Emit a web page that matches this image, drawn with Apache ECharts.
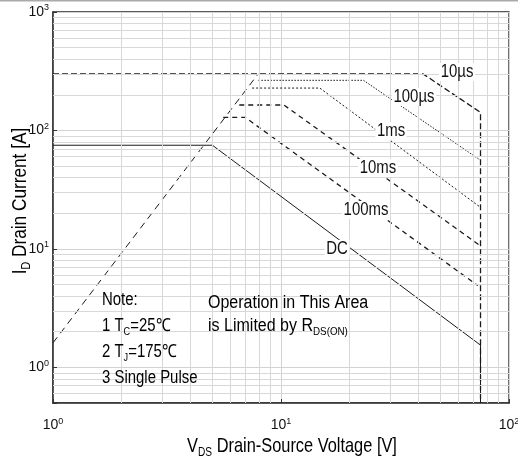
<!DOCTYPE html>
<html><head><meta charset="utf-8">
<script src="https://cdn.jsdelivr.net/npm/echarts@6/dist/echarts.min.js"></script>
<style>html,body{margin:0;padding:0;background:#fff}#c{width:518px;height:459px}</style>
</head><body><div id="c"></div>
<script>
// ---- data ----
const xMinor = [2,3,4,5,6,7,8,9,20,30,40,50,60,70,80,90];
const yMinor = [0.6,0.7,0.8,0.9,2,3,4,5,6,7,8,9,20,30,40,50,60,70,80,90,200,300,400,500,600,700,800,900];
const rdsLimit = [[1,1.61],[7.94,300]];
const us10  = [[1,300],[42,300],[75,142],[75,0.5]];
const us100 = [[7.96,265],[23,265],[75,56]];
const ms1   = [[7.47,228],[14.8,228],[75,22.4]];
const ms10  = [[6.56,164],[10.3,164],[75,10.6]];
const ms100 = [[5.58,129],[6.96,129],[73,4.9]];
const dc    = [[1,75],[5,75],[75,1.54],[75,0.5]];
const curveLabels = ['10µs','100µs','1ms','10ms','100ms','DC'];
const noteLines = ['Note:','1 T{s|C}=25℃','2 T{s|J}=175℃','3 Single Pulse'];
const areaLines = ['Operation in This Area','is Limited by R{s|DS(ON)}'];
const xTitle = 'V{s|DS} Drain-Source Voltage [V]';
const yTitle = 'I{s|D} Drain Current [A]';

const FONT = "'Liberation Sans',Arial,sans-serif";
const chart = echarts.init(document.getElementById('c'), null, {renderer:'canvas'});
const ink = '#1a1a1a';
function powLabel(v){
  const e = Math.log10(v), r = Math.round(e);
  if (Math.abs(e - r) > 1e-6) return '';
  return '{b|10}{p|' + r + '}';
}
const tickRich = {
  b:{fontSize:14,fontFamily:FONT,color:'#111',lineHeight:17},
  p:{fontSize:9,fontFamily:FONT,color:'#111',lineHeight:9,verticalAlign:'top'}
};
function sub(size){
  return {
    m:{fontSize:size,fontFamily:FONT,color:'#111',lineHeight:size+4},
    s:{fontSize:Math.round(size*0.62),fontFamily:FONT,color:'#111',lineHeight:Math.round(size*0.5),verticalAlign:'bottom'}
  };
}
function wrapM(t){
  return t.split(/(\{s\|[^}]*\})/).map(p => p.startsWith('{s|') ? p : (p ? '{m|' + p + '}' : '')).join('');
}
function lineSeries(name, data, width, dash){
  return {name, type:'line', data, symbol:'none', silent:true,
    lineStyle:{color:ink, width, type: dash}, z:3};
}
const curvePos = [[457,72],[414,97],[391,131],[378,168],[366,210],[337,249]];
const graphics = [];
curveLabels.forEach((t,i) => graphics.push({type:'text', x:curvePos[i][0], y:curvePos[i][1], z:10, scaleX:0.83,
  style:{text:t, font:'18px ' + FONT, fill:'#111', align:'center', verticalAlign:'middle',
    backgroundColor:'#fff', padding:[0,2]}}));
noteLines.forEach((t,i) => graphics.push({type:'text', x:102, y:300 + i*26, z:10, scaleX:0.83,
  style:{text:wrapM(t), rich:sub(18), align:'left', verticalAlign:'middle'}}));
areaLines.forEach((t,i) => graphics.push({type:'text', x:208, y:303 + i*23, z:10, scaleX:0.89,
  style:{text:wrapM(t), rich:sub(18), align:'left', verticalAlign:'middle'}}));
graphics.push({type:'text', x:292, y:446, z:10, scaleX:0.78,
  style:{text:wrapM(xTitle), rich:sub(21), align:'center', verticalAlign:'middle'}});
graphics.push({type:'text', x:20, y:201, rotation:Math.PI/2, scaleX:0.82, z:10,
  style:{text:wrapM(yTitle), rich:sub(21), align:'center', verticalAlign:'middle'}});
graphics.push({type:'rect', shape:{x:0,y:0,width:518,height:1.5}, style:{fill:'#aaa'}});

chart.setOption({
  animation:false,
  backgroundColor:'#fff',
  grid:{left:53, right:9, top:12, bottom:56, show:true, borderColor:'#222', borderWidth:1.3, outerBoundsMode:'none', containLabel:false},
  xAxis:{type:'log', logBase:10, min:1, max:100,
    axisLine:{show:true, lineStyle:{color:'#333', width:1.5}},
    axisTick:{show:true, inside:true, length:4, lineStyle:{color:'#333'}},
    axisLabel:{formatter:powLabel, rich:tickRich, margin:14, color:'#111'},
    splitLine:{show:true, lineStyle:{color:'#d2d2d2', width:1}}},
  yAxis:{type:'log', logBase:10, min:0.5, max:1000,
    axisLine:{show:true, lineStyle:{color:'#333', width:1.5}},
    axisTick:{show:true, inside:true, length:4, lineStyle:{color:'#333'}},
    axisLabel:{formatter:powLabel, rich:tickRich, margin:4, color:'#111'},
    splitLine:{show:true, lineStyle:{color:'#d2d2d2', width:1}}},
  graphic:graphics,
  series:[
    {type:'line', data:[], symbol:'none', silent:true, z:1,
      markLine:{silent:true, symbol:'none', animation:false, label:{show:false},
        lineStyle:{color:'#d8d8d8', width:1, type:'solid'},
        data: xMinor.map(v => ({xAxis:v})).concat(yMinor.map(v => ({yAxis:v})))}},
    lineSeries('rds', rdsLimit, 1, [7,5]),
    lineSeries('10us', us10, 1.3, [6,3]),
    lineSeries('100us', us100, 1, [1.5,1.5]),
    lineSeries('1ms', ms1, 1, [2,2]),
    lineSeries('10ms', ms10, 1.3, [5,4]),
    lineSeries('100ms', ms100, 1.3, [5,4]),
    lineSeries('DC', dc, 1, 'solid')
  ]
});
</script></body></html>
